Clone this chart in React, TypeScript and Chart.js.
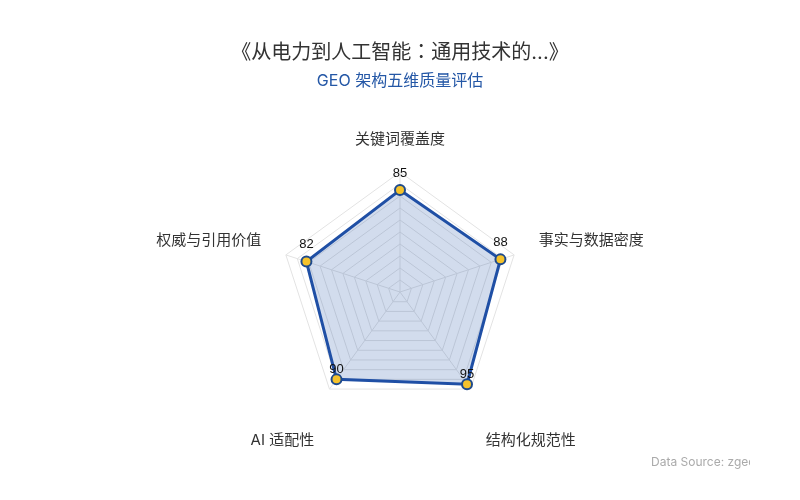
import React, { useEffect, useRef } from "react";
import { Chart, registerables } from "chart.js";

Chart.register(...registerables);

const categories = ["关键词覆盖度", "事实与数据密度", "结构化规范性", "AI 适配性", "权威与引用价值"];
const scores = [85, 88, 95, 90, 82];
const titleText = "《从电力到人工智能：通用技术的...》";
const subtitleText = "GEO 架构五维质量评估";
const sourceText = "Data Source: zgeo.ai";

const FONT = "Inter, 'Noto Sans CJK SC', 'Noto Sans', sans-serif";
const TITLE_FONT = "Inter, 'Noto Sans CJK JP', 'Noto Sans CJK SC', sans-serif";

const overlayPlugin = {
  id: "overlay",
  afterDraw(chart: any) {
    const ctx = chart.ctx as CanvasRenderingContext2D;
    const scale = chart.scales.r;
    const cx = scale.xCenter;
    const cy = scale.yCenter;
    const R = scale.drawingArea;
    ctx.save();
    // titles
    ctx.textAlign = "center";
    ctx.textBaseline = "middle";
    ctx.fillStyle = "#333333";
    ctx.font = `20px ${TITLE_FONT}`;
    ctx.fillText(titleText, chart.width / 2, 53);
    ctx.fillStyle = "#2457a6";
    ctx.font = `16px ${FONT}`;
    ctx.fillText(subtitleText, chart.width / 2, 81);

    // axis names
    ctx.fillStyle = "#333333";
    ctx.font = `15px ${FONT}`;
    categories.forEach((name, i) => {
      const p = scale.getPointPosition(i, R + 26);
      const dx = p.x - cx;
      const dy = p.y - cy;
      let y = p.y;
      if (Math.abs(dx) < 2) {
        ctx.textAlign = "center";
        y = p.y - 7;
      } else {
        ctx.textAlign = dx > 0 ? "left" : "right";
        y = dy > 0 ? p.y + 30 : p.y - 6;
      }
      ctx.textBaseline = "middle";
      ctx.fillText(name, p.x, y);
    });

    // value labels
    const meta = chart.getDatasetMeta(0);
    ctx.fillStyle = "#111111";
    ctx.font = `13px 'Liberation Sans', Arial, sans-serif`;
    ctx.textAlign = "center";
    ctx.textBaseline = "middle";
    meta.data.forEach((pt: any, i: number) => {
      const below = pt.y > cy + 10;
      ctx.fillText(String(scores[i]), pt.x, pt.y - (below ? 10 : 17));
    });

    // data source (clipped)
    ctx.beginPath();
    ctx.rect(600, 440, 150, 40);
    ctx.clip();
    ctx.fillStyle = "#aaaaaa";
    ctx.font = `12px ${FONT}`;
    ctx.textAlign = "left";
    ctx.fillText(sourceText, 651, 462);
    ctx.restore();
  },
};

export default function App() {
  const ref = useRef<HTMLCanvasElement | null>(null);
  useEffect(() => {
    if (!ref.current) return;
    const chart = new Chart(ref.current, {
      type: "radar",
      data: {
        labels: categories,
        datasets: [
          {
            data: scores,
            borderColor: "#1f4fa5",
            borderWidth: 3,
            backgroundColor: "rgba(31,79,165,0.2)",
            fill: true,
            pointRadius: 5,
            pointBorderWidth: 2,
            pointBackgroundColor: "#f5c22b",
            pointBorderColor: "#1e4a8c",
          },
        ],
      },
      options: {
        animation: false,
        responsive: false,
        layout: { padding: { top: 172, bottom: 88, left: 0, right: 0 } },
        scales: {
          r: {
            min: 0,
            max: 100,
            ticks: { display: false, stepSize: 10 },
            pointLabels: { display: false },
            grid: { color: "#e3e3e3" },
            angleLines: { color: "#e3e3e3" },
          },
        },
        plugins: { legend: { display: false }, tooltip: { enabled: false } },
      },
      plugins: [overlayPlugin],
    });
    return () => chart.destroy();
  }, []);
  return (
    <div style={{ position: "fixed", left: 0, top: 0, width: 800, height: 500, background: "#fff" }}>
      <canvas ref={ref} width={800} height={500} style={{ width: 800, height: 500 }} />
    </div>
  );
}
